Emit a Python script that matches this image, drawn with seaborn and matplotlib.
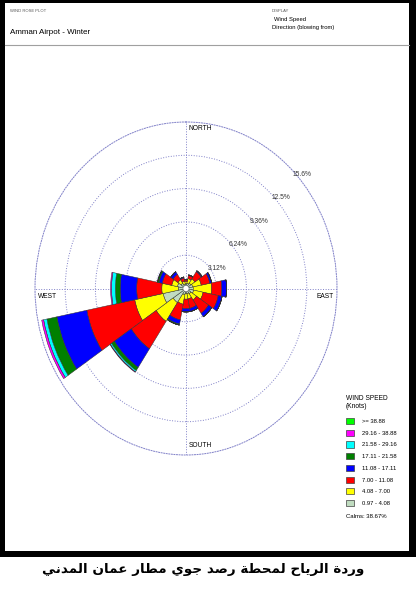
import numpy as np
import matplotlib
matplotlib.use("Agg")
import matplotlib.pyplot as plt
import seaborn as sns
from matplotlib.patches import Rectangle, Ellipse, Patch

# wind direction sectors (blowing from), degrees clockwise from north
directions = ["N", "NNE", "NE", "ENE", "E", "ESE", "SE", "SSE",
              "S", "SSW", "SW", "WSW", "W", "WNW", "NW", "NNW"]
dir_deg = [0, 22.5, 45, 67.5, 90, 112.5, 135, 157.5,
           180, 202.5, 225, 247.5, 270, 292.5, 315, 337.5]

# frequency (%) of each speed class per sector
pct_097_408 = [0.45, 0.5, 0.6, 0.7, 0.75, 0.8, 0.6, 0.5, 0.5, 0.6, 1.6, 2.4, 0.8, 0.9, 0.6, 0.4]
pct_408_700 = [0.2, 0.45, 0.5, 0.9, 1.9, 1.0, 0.7, 0.5, 0.5, 0.9, 2.1, 3.0, 1.7, 0.6, 0.4, 0.3]
pct_700_1108 = [0.15, 0.3, 0.8, 0.9, 1.05, 1.6, 1.5, 0.9, 0.9, 1.5, 3.1, 5.05, 2.6, 1.0, 0.6, 0.3]
pct_1108_1711 = [0.05, 0.05, 0.1, 0.2, 0.5, 0.4, 0.4, 0.3, 0.3, 0.4, 2.1, 3.15, 1.7, 0.35, 0.3, 0.1]
pct_1711_2158 = [0, 0, 0, 0, 0, 0, 0, 0, 0, 0.1, 0.35, 1.05, 0.5, 0.15, 0, 0]
pct_2158_2916 = [0, 0, 0, 0, 0, 0, 0, 0, 0, 0, 0.15, 0.35, 0.4, 0, 0, 0]
pct_2916_3888 = [0, 0, 0, 0, 0, 0, 0, 0, 0, 0, 0.05, 0.2, 0.1, 0, 0, 0]
pct_3888_up = [0, 0, 0, 0, 0, 0, 0, 0, 0, 0, 0, 0, 0, 0, 0, 0]

speed_classes = ["0.97 - 4.08", "4.08 - 7.00", "7.00 - 11.08", "11.08 - 17.11",
                 "17.11 - 21.58", "21.58 - 29.16", "29.16 - 38.88", ">= 38.88"]
class_colors = ["#c0dcc0", "#ffff00", "#ff0000", "#0000ff",
                "#008000", "#00ffff", "#ff00ff", "#00ff00"]
class_values = [pct_097_408, pct_408_700, pct_700_1108, pct_1108_1711,
                pct_1711_2158, pct_2158_2916, pct_2916_3888, pct_3888_up]

calms = 38.67
ring_values = [3.12, 6.24, 9.36, 12.48, 15.6]
ring_labels = ["3.12%", "6.24%", "9.36%", "12.5%", "15.6%"]

caption = "وردة الرياح لمحطة رصد جوي مطار عمان المدني"

# matplotlib has no arabic shaping, so pick presentation forms by hand
forms = {  # isolated, final, initial, medial
    "ا": ("\ufe8d", "\ufe8e", None, None),
    "ة": ("\ufe93", "\ufe94", None, None),
    "ج": ("\ufe9d", "\ufe9e", "\ufe9f", "\ufea0"),
    "ح": ("\ufea1", "\ufea2", "\ufea3", "\ufea4"),
    "د": ("\ufea9", "\ufeaa", None, None),
    "ر": ("\ufead", "\ufeae", None, None),
    "ص": ("\ufeb9", "\ufeba", "\ufebb", "\ufebc"),
    "ط": ("\ufec1", "\ufec2", "\ufec3", "\ufec4"),
    "ع": ("\ufec9", "\ufeca", "\ufecb", "\ufecc"),
    "ل": ("\ufedd", "\ufede", "\ufedf", "\ufee0"),
    "م": ("\ufee1", "\ufee2", "\ufee3", "\ufee4"),
    "ن": ("\ufee5", "\ufee6", "\ufee7", "\ufee8"),
    "و": ("\ufeed", "\ufeee", None, None),
    "ي": ("\ufef1", "\ufef2", "\ufef3", "\ufef4"),
}


def shape_arabic(text):
    out = []
    for i, ch in enumerate(text):
        if ch not in forms:
            out.append(ch)
            continue
        prev = text[i - 1] if i > 0 else " "
        nxt = text[i + 1] if i + 1 < len(text) else " "
        iso, fin, ini, med = forms[ch]
        joins_prev = prev in forms and forms[prev][2] is not None
        joins_next = ini is not None and nxt in forms
        if joins_prev and joins_next:
            out.append(med)
        elif joins_prev:
            out.append(fin)
        elif joins_next:
            out.append(ini)
        else:
            out.append(iso)
    return "".join(reversed(out))


plt.rcParams["font.family"] = ["Liberation Sans", "DejaVu Sans"]
W, H = 416, 599
fig = plt.figure(figsize=(W / 100, H / 100), dpi=100)

# black frame with white panel
fig.patches.append(Rectangle((0, 1 - 557 / H), 1, 557 / H, transform=fig.transFigure,
                             facecolor="black", edgecolor="none", zorder=-3))
fig.patches.append(Rectangle((5 / W, 1 - 551 / H), 404 / W, 548 / H, transform=fig.transFigure,
                             facecolor="white", edgecolor="none", zorder=-2))
fig.add_artist(plt.Line2D([5 / W, 409 / W], [1 - 45 / H, 1 - 45 / H], color="#a0a0a0", lw=0.8))

# header
fig.text(10 / W, 1 - 11 / H, "WIND ROSE PLOT", fontsize=3, color="#555555", va="center")
fig.text(10 / W, 1 - 32 / H, "Amman Airpot - Winter", fontsize=5.8, va="center")
fig.text(272 / W, 1 - 11 / H, "DISPLAY", fontsize=3, color="#555555", va="center")
fig.text(274 / W, 1 - 19 / H, "Wind Speed", fontsize=4.2, va="center")
fig.text(272 / W, 1 - 27 / H, "Direction (blowing from)", fontsize=4.2, va="center")

ax = fig.add_axes([35 / W, 1 - 455 / H, 302 / W, 333 / H], projection="polar")
ax.patch.set_visible(False)
ax.set_theta_zero_location("N")
ax.set_theta_direction(-1)

theta = np.deg2rad(dir_deg)
bottom = np.zeros(len(dir_deg))
for color, values in zip(class_colors, class_values):
    values = np.array(values, dtype=float)
    if values.sum() > 0:
        sns.barplot(x=theta, y=values, native_scale=True, orient="x", width=1.0,
                    bottom=bottom, color=color, saturation=1, errorbar=None,
                    edgecolor="#303030", linewidth=0.35, ax=ax, zorder=3)
    bottom = bottom + values

ax.set_ylim(0, ring_values[-1])
ax.set_yticks(ring_values[:-1])
ax.set_yticklabels([])
ax.set_xticks(np.deg2rad([0, 90, 180, 270]))
ax.set_xticklabels([])
ax.set_xlabel("")
ax.set_ylabel("")
ax.grid(True, color="#8080c8", linestyle=":", linewidth=0.7)
ax.set_axisbelow(True)
ax.spines["polar"].set_color("#8080c8")
ax.spines["polar"].set_linestyle(":")
ax.spines["polar"].set_linewidth(0.7)

# calm hole
ax.add_patch(Ellipse((0.5, 0.5), 6 / 302, 6 / 333, transform=ax.transAxes,
                     facecolor="white", edgecolor="#606060", lw=0.3, zorder=6))

for v, lab in zip(ring_values, ring_labels):
    ax.text(np.deg2rad(45), v, lab, fontsize=4.8, ha="left", va="top", color="#333333", zorder=7)

ax.text(0.508, 0.99, "NORTH", transform=ax.transAxes, fontsize=4.8, ha="left", va="top")
ax.text(0.508, 0.017, "SOUTH", transform=ax.transAxes, fontsize=4.8, ha="left", va="bottom")
ax.text(0.988, 0.487, "EAST", transform=ax.transAxes, fontsize=4.8, ha="right", va="top")
ax.text(0.011, 0.487, "WEST", transform=ax.transAxes, fontsize=4.8, ha="left", va="top")
ax.set_aspect("auto")

# legend
fig.text(346 / W, 1 - 398 / H, "WIND SPEED", fontsize=4.8, va="center")
fig.text(346 / W, 1 - 406 / H, "(Knots)", fontsize=4.8, va="center")
handles = [Patch(facecolor=c, edgecolor="#404040", linewidth=0.5) for c in class_colors][::-1]
leg = fig.legend(handles, speed_classes[::-1], loc="upper left",
                 bbox_to_anchor=(346 / W, 1 - 418 / H), frameon=False,
                 fontsize=4.2, handlelength=1.45, handleheight=1.25,
                 labelspacing=0.95, handletextpad=1.3, borderpad=0, borderaxespad=0)
fig.text(346 / W, 1 - 516 / H, f"Calms: {calms}%", fontsize=4.3, va="center")

fig.text(203 / W, 1 - 569 / H, shape_arabic(caption), fontsize=9.7, fontweight="bold",
         family="DejaVu Sans", ha="center", va="center")

fig.savefig("out.png", dpi=100)
